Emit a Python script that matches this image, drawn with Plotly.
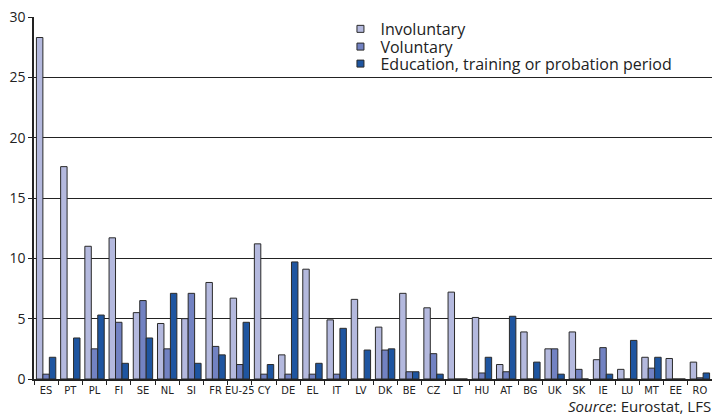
import plotly.graph_objects as go

countries = ["ES", "PT", "PL", "FI", "SE", "NL", "SI", "FR", "EU-25", "CY", "DE", "EL", "IT", "LV",
             "DK", "BE", "CZ", "LT", "HU", "AT", "BG", "UK", "SK", "IE", "LU", "MT", "EE", "RO"]
involuntary = [28.3, 17.6, 11.0, 11.7, 5.5, 4.6, 5.0, 8.0, 6.7, 11.2, 2.0, 9.1, 4.9, 6.6,
               4.3, 7.1, 5.9, 7.2, 5.1, 1.2, 3.9, 2.5, 3.9, 1.6, 0.8, 1.8, 1.7, 1.4]
voluntary = [0.4, 0.0, 2.5, 4.7, 6.5, 2.5, 7.1, 2.7, 1.2, 0.4, 0.4, 0.4, 0.4, 0.0,
             2.4, 0.6, 2.1, 0.0, 0.5, 0.6, 0.0, 2.5, 0.8, 2.6, 0.0, 0.9, 0.0, 0.1]
education = [1.8, 3.4, 5.3, 1.3, 3.4, 7.1, 1.3, 2.0, 4.7, 1.2, 9.7, 1.3, 4.2, 2.4,
             2.5, 0.6, 0.4, 0.0, 1.8, 5.2, 1.4, 0.4, 0.0, 0.4, 3.2, 1.8, 0.0, 0.5]
series_names = ["Involuntary", "Voluntary", "Education, training or probation period"]
series_colors = ["#b4b9de", "#7282c2", "#1e55a0"]
y_ticks = [0, 5, 10, 15, 20, 25, 30]

legend_ids = ["legend", "legend2", "legend3"]
legend_rows = [0.967, 0.918, 0.871]

fig = go.Figure()
for name, vals, col in zip(series_names, [involuntary, voluntary, education], series_colors):
    fig.add_trace(go.Bar(x=countries, y=vals, name=name, showlegend=False,
                         marker=dict(color=col, line=dict(color="#2a2a2a", width=1))))
for name, col, lid in zip(series_names, series_colors, legend_ids):
    fig.add_trace(go.Scatter(x=[None], y=[None], mode="markers", name=name, legend=lid,
                             marker=dict(symbol="square", size=7, color=col,
                                         line=dict(color="#2a2a2a", width=1))))

legend_style = dict(x=0.452, xanchor="left", yanchor="middle", bgcolor="rgba(0,0,0,0)",
                    font=dict(size=16, color="#222"), itemwidth=30)
fig.update_layout(
    width=712, height=417,
    margin=dict(l=34, r=0, t=17, b=38),
    paper_bgcolor="white", plot_bgcolor="white",
    barmode="group", bargap=0.2, bargroupgap=0,
    font=dict(family="Open Sans, Noto Sans, sans-serif", color="#222", size=14),
    legend=dict(y=legend_rows[0], **legend_style),
    legend2=dict(y=legend_rows[1], **legend_style),
    legend3=dict(y=legend_rows[2], **legend_style),
    showlegend=True,
)
fig.update_xaxes(
    type="category", categoryorder="array", categoryarray=countries,
    range=[-0.5, len(countries) - 0.5],
    showline=True, linecolor="#222", linewidth=1.5,
    ticks="outside", tickson="boundaries", ticklen=4, tickcolor="#222",
    tickangle=0, automargin=False, ticklabelstandoff=0,
    tickfont=dict(family="Liberation Sans Narrow, DejaVu Sans Condensed, sans-serif", size=11, color="#222"),
    showgrid=False,
)
fig.update_yaxes(
    range=[0, 30], tickvals=y_ticks, automargin=False,
    showline=True, linecolor="#222", linewidth=1.5,
    ticks="outside", ticklen=4, tickcolor="#222",
    showgrid=True, gridcolor="#222", gridwidth=1,
    zeroline=False,
    tickfont=dict(size=14, color="#222"),
)
fig.add_annotation(text="<i>Source</i>: Eurostat, LFS", xref="paper", yref="paper",
                   x=1.0, y=-0.104, xanchor="right", yanchor="bottom", showarrow=False,
                   borderpad=0, font=dict(size=15, color="#222"))
fig.write_html("out.html", config={"displayModeBar": False},
               post_script="document.body.style.margin='0';document.body.style.padding='0';")
